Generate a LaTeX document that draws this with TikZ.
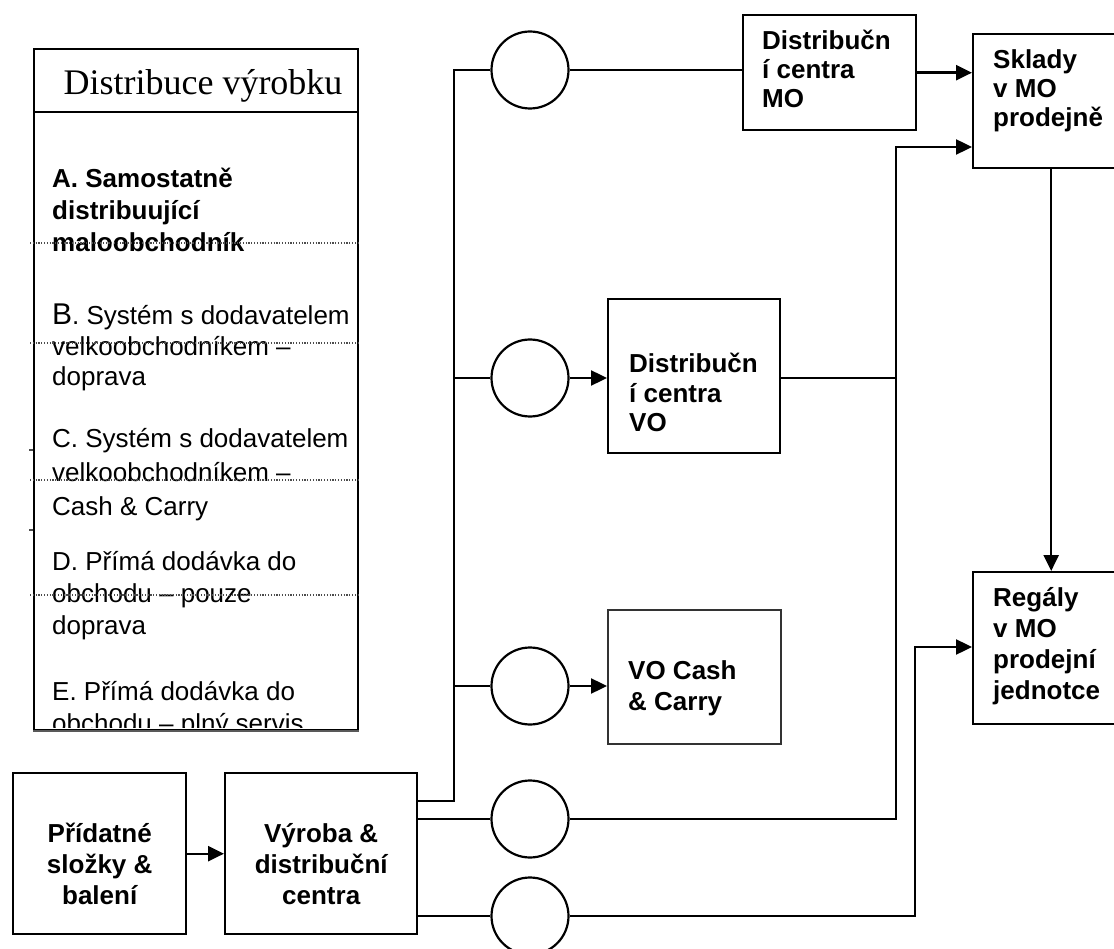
\documentclass[tikz,border=0pt]{standalone}
\usepackage{fontspec}
\setmainfont{Liberation Sans}
\newfontfamily\titlefont{Liberation Serif}
\usetikzlibrary{arrows.meta}
% stacked lines with a fixed baseline distance; the stack sits on its first baseline
\newcommand\leftrows[2]{\vtop{\baselineskip=#1pt\lineskiplimit=-50pt\lineskip=0pt\halign{##\hfil\cr#2\crcr}}}
\newcommand\centerrows[2]{\vtop{\baselineskip=#1pt\lineskiplimit=-50pt\lineskip=0pt\halign{\hfil##\hfil\cr#2\crcr}}}
\begin{document}
\begin{tikzpicture}[x=1pt,y=-1pt,
  box/.style={draw, line width=2.4pt, inner sep=0pt, anchor=north west},
  hole/.style={draw, circle, line width=2.2pt, minimum size=77pt, inner sep=0pt},
  wire/.style={line width=2.4pt},
  arr/.style={line width=2.4pt, -{Triangle[length=16pt,width=15pt]}},
  lbl/.style={inner sep=0pt, font=\fontsize{26}{29}\selectfont\bfseries},
  item/.style={inner sep=0pt, anchor=base west, font=\fontsize{26}{32}\selectfont},
  sep/.style={line width=1.3pt, black!70, dash pattern=on 1.2pt off 1.6pt}]
\clip (0,0) rectangle (1114,949);
\fill[white] (0,0) rectangle (1114,949);

% ---------- legend panel ----------
\node[draw, line width=1.6pt, inner sep=0pt, anchor=north west,
      minimum width=324pt, minimum height=681pt] (panel) at (33,48) {};
\draw[line width=2.2pt, black!65] (panel.south west) -- (panel.south east);
\draw[line width=2.4pt] (panel.west |- 0,112) coordinate (sepL) -- (panel.east |- sepL);
\node[inner sep=0pt, anchor=base, font=\titlefont\fontsize{36}{42}\selectfont]
  (title) at (203,95) {Distribuce výrobku};

\node[item, font=\fontsize{26}{32}\selectfont\bfseries] (itemA) at (52,188)
  {\leftrows{32}{A. Samostatně\cr distribuující\cr maloobchodník}};
\node[item] (itemB) at (52,325)
  {\leftrows{30.5}{{\fontsize{30}{30}\selectfont B}. Systém s dodavatelem\cr velkoobchodníkem –\cr doprava}};
\node[item] (itemC) at (52,447)
  {\leftrows{34}{C. Systém s dodavatelem\cr velkoobchodníkem –\cr Cash \& Carry}};
\node[item] (itemD) at (52,570)
  {\leftrows{32}{D. Přímá dodávka do\cr obchodu – pouze\cr doprava}};
\begin{scope}
  \clip (33,48) rectangle (357,727);
  \node[item] (itemE) at (52,700)
    {\leftrows{32}{E. Přímá dodávka do\cr obchodu – plný servis}};
\end{scope}

\foreach \y in {243,343,480,595}
  \draw[sep] (30,\y) -- (panel.east |- 0,\y);
% small marks on the left edge of the panel
\draw[line width=1.2pt, black!70] (29,450) -- (33,450);
\draw[line width=1.2pt, black!70] (29,530) -- (33,530);

% ---------- boxes ----------
\node[box, minimum width=173pt, minimum height=161pt] (prid) at (12,772) {};
\node[box, minimum width=192pt, minimum height=161pt] (vyr)  at (224,772) {};
\node[box, minimum width=173pt, minimum height=115pt] (mo)   at (742,14) {};
\node[box, minimum width=172pt, minimum height=154pt] (vo)   at (607,298) {};
\node[box, line width=1.6pt, draw=black!80, minimum width=173pt, minimum height=134pt] (vc) at (607,609) {};
\node[box, minimum width=156pt, minimum height=134pt] (sk)   at (972,33) {};
\node[box, minimum width=156pt, minimum height=152pt] (rg)   at (972,571) {};

\node[lbl, anchor=base] (pridT) at (prid.center |- 0,842)
  {\centerrows{31}{Přídatné\cr složky \&\cr balení}};
\node[lbl, anchor=base] (vyrT) at (vyr.center |- 0,842)
  {\centerrows{31}{Výroba \&\cr distribuční\cr centra}};
\node[lbl, anchor=base west] (moT) at (762,50)
  {\leftrows{29}{Distribučn\cr í centra\cr MO}};
\node[lbl, anchor=base west] (voT) at (629,373)
  {\leftrows{29.5}{Distribučn\cr í centra\cr VO}};
\node[lbl, anchor=base west] (vcT) at (628,679)
  {\leftrows{31}{VO Cash\cr \& Carry}};
\node[lbl, anchor=base west] (skT) at (993,69)
  {\leftrows{29}{Sklady\cr v MO\cr prodejně}};
\node[lbl, anchor=base west] (rgT) at (993,606)
  {\leftrows{31}{Regály\cr v MO\cr prodejní\cr jednotce}};

% ---------- transport circles ----------
\node[hole] (c1) at (530,70)  {};
\node[hole] (c2) at (530,378) {};
\node[hole] (c3) at (530,686) {};
\node[hole] (c4) at (530,819) {};
\node[hole] (c5) at (530,916) {};

% ---------- connectors ----------
\coordinate (trunkLow) at (454,801);
\coordinate (trunkTop) at (454,70);
\coordinate (riseA) at (896,147);
\coordinate (riseB) at (915,647);

\draw[arr] (prid.east) -- (vyr.west);
\draw[wire, line join=miter] (vyr.east |- trunkLow) -- (trunkLow) -- (trunkTop) -- (c1.west);
\draw[wire] (trunkTop |- c2) -- (c2.west);
\draw[wire] (trunkTop |- c3) -- (c3.west);

\draw[wire] (c1.east) -- (c1.east -| mo.west);
\draw[arr] (mo.east) -- (mo.east -| sk.west);

\draw[arr] (c2.east) -- (c2.east -| vo.west);
\draw[wire] (vo.east |- c2) -- (riseA |- c2);

\draw[arr] (c3.east) -- (c3.east -| vc.west);

\draw[wire] (vyr.east |- c4) -- (c4.west);
\draw[arr] (c4.east) -- (riseA |- c4) -- (riseA) -- (riseA -| sk.west);

\draw[wire] (vyr.east |- c5) -- (c5.west);
\draw[arr] (c5.east) -- (riseB |- c5) -- (riseB) -- (riseB -| rg.west);

\draw[arr] (sk.south) -- (rg.north);
\end{tikzpicture}
\end{document}
